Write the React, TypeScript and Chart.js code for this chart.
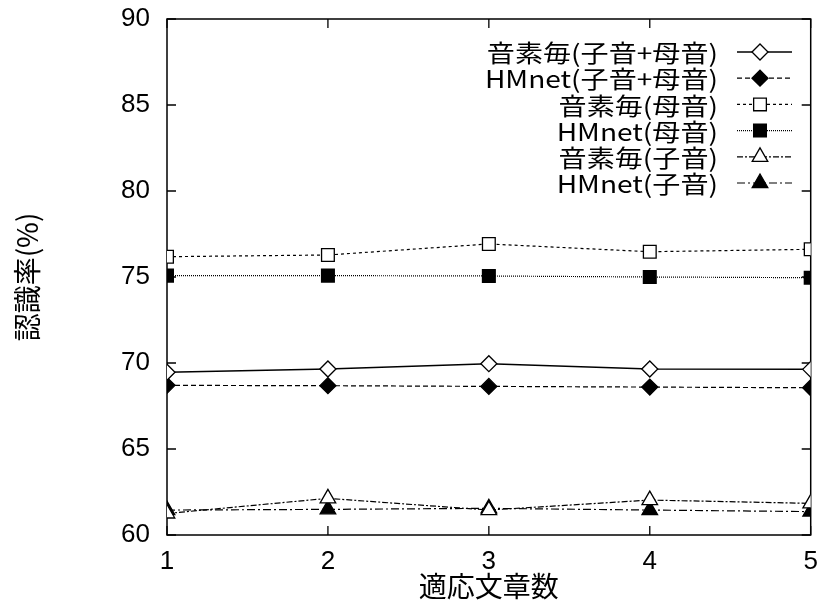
import React, { useEffect, useRef } from 'react';
import { Chart, registerables } from 'chart.js';

Chart.register(...registerables);

// ---- data ----
const xValues = [1, 2, 3, 4, 5];
const yTicks = [60, 65, 70, 75, 80, 85, 90];
const seriesNames = [
  '音素毎(子音+母音)',
  'HMnet(子音+母音)',
  '音素毎(母音)',
  'HMnet(母音)',
  '音素毎(子音)',
  'HMnet(子音)',
];
const phonemeAll = [69.46, 69.65, 69.96, 69.65, 69.63];
const hmnetAll = [68.7, 68.68, 68.64, 68.6, 68.56];
const phonemeVowel = [76.18, 76.28, 76.92, 76.47, 76.61];
const hmnetVowel = [75.08, 75.08, 75.06, 75.0, 74.96];
const phonemeCons = [61.25, 62.13, 61.45, 62.03, 61.84];
const hmnetCons = [61.45, 61.49, 61.55, 61.45, 61.36];
const seriesValues = [phonemeAll, hmnetAll, phonemeVowel, hmnetVowel, phonemeCons, hmnetCons];
const xTitle = '適応文章数';
const yTitle = '認識率(%)';

// ---- styles ----
const seriesStyles = [
  { pointStyle: 'rectRot', filled: false, dash: [] as number[], r: 8, lw: 1.5 },
  { pointStyle: 'rectRot', filled: true, dash: [5, 3], r: 8, lw: 1.2 },
  { pointStyle: 'rect', filled: false, dash: [3, 3], r: 9, lw: 1.2 },
  { pointStyle: 'rect', filled: true, dash: [1, 1], r: 9, lw: 1.2 },
  { pointStyle: 'triangle', filled: false, dash: [6, 2, 2, 2], r: 9, lw: 1.2 },
  { pointStyle: 'triangle', filled: true, dash: [8, 3, 2, 3], r: 9, lw: 1.2 },
];

const CJK = '"Noto Sans CJK JP", sans-serif';
const NUM = '"Liberation Sans", Arial, sans-serif';

function drawMarker(ctx: CanvasRenderingContext2D, style: string, x: number, y: number, r: number, filled: boolean) {
  ctx.beginPath();
  if (style === 'rectRot') {
    ctx.moveTo(x - r, y);
    ctx.lineTo(x, y - r);
    ctx.lineTo(x + r, y);
    ctx.lineTo(x, y + r);
    ctx.closePath();
  } else if (style === 'rect') {
    const s = r * Math.SQRT1_2;
    ctx.rect(x - s, y - s, 2 * s, 2 * s);
  } else {
    for (let k = 0; k < 3; k++) {
      const a = (k * 2 * Math.PI) / 3;
      const px = x + Math.sin(a) * r;
      const py = y - Math.cos(a) * r;
      if (k === 0) ctx.moveTo(px, py);
      else ctx.lineTo(px, py);
    }
    ctx.closePath();
  }
  ctx.fillStyle = filled ? '#000' : '#fff';
  ctx.fill();
  ctx.stroke();
}

const framePlugin = {
  id: 'frame',
  beforeDatasetsDraw(chart: any) {
    const { ctx, chartArea: a, scales } = chart;
    ctx.save();
    ctx.strokeStyle = '#000';
    ctx.setLineDash([]);
    ctx.lineWidth = 1.5;
    ctx.strokeRect(a.left, a.top, a.right - a.left, a.bottom - a.top);
    ctx.lineWidth = 1.3;
    ctx.beginPath();
    for (const v of yTicks) {
      const y = scales.y.getPixelForValue(v);
      ctx.moveTo(a.left, y);
      ctx.lineTo(a.left + 9, y);
      ctx.moveTo(a.right, y);
      ctx.lineTo(a.right - 9, y);
    }
    for (const v of xValues) {
      const x = scales.x.getPixelForValue(v);
      ctx.moveTo(x, a.bottom);
      ctx.lineTo(x, a.bottom - 9);
      ctx.moveTo(x, a.top);
      ctx.lineTo(x, a.top + 9);
    }
    ctx.stroke();
    ctx.restore();
  },
};

const legendPlugin = {
  id: 'customLegend',
  afterDraw(chart: any) {
    const { ctx } = chart;
    const textRight = 718;
    const lineStart = 737;
    const lineEnd = 792;
    const markerX = 760;
    const top = 52;
    const step = 26.2;
    ctx.save();
    ctx.font = `24px ${CJK}`;
    ctx.textAlign = 'right';
    ctx.textBaseline = 'middle';
    chart.data.datasets.forEach((ds: any, i: number) => {
      const st = seriesStyles[i];
      const y = top + step * i;
      ctx.save();
      ctx.translate(textRight, y + 1);
      ctx.scale(1.17, 1);
      ctx.fillStyle = '#000';
      ctx.fillText(ds.label, 0, 0);
      ctx.restore();
      ctx.strokeStyle = '#000';
      ctx.lineWidth = st.lw;
      ctx.setLineDash(st.dash);
      ctx.beginPath();
      ctx.moveTo(lineStart, y);
      ctx.lineTo(lineEnd, y);
      ctx.stroke();
      ctx.setLineDash([]);
      ctx.lineWidth = 1.3;
      drawMarker(ctx, st.pointStyle, markerX, y, st.r, st.filled);
    });
    ctx.restore();
  },
};

export default function App() {
  const canvasRef = useRef<HTMLCanvasElement | null>(null);

  useEffect(() => {
    if (!canvasRef.current) return;
    const datasets = seriesNames.map((name, i) => {
      const st = seriesStyles[i];
      return {
        label: name,
        data: xValues.map((x, j) => ({ x, y: seriesValues[i][j] })),
        borderColor: '#000',
        borderWidth: st.lw,
        borderDash: st.dash,
        pointStyle: st.pointStyle,
        pointRadius: st.r,
        pointBorderWidth: 1.3,
        pointBorderColor: '#000',
        pointBackgroundColor: st.filled ? '#000' : '#fff',
        fill: false,
        tension: 0,
      };
    });
    const chart = new Chart(canvasRef.current, {
      type: 'line',
      data: { datasets },
      options: {
        responsive: false,
        animation: false,
        layout: { padding: { top: 19, right: 6, left: 0, bottom: 0 } },
        plugins: {
          legend: { display: false },
          tooltip: { enabled: false },
        },
        scales: {
          x: {
            type: 'linear',
            min: 1,
            max: 5,
            grid: { display: false, drawTicks: false },
            border: { display: false },
            ticks: {
              stepSize: 1,
              color: '#000',
              font: { family: NUM, size: 26 },
              padding: 11,
              maxRotation: 0,
            },
            title: {
              display: true,
              text: xTitle,
              color: '#000',
              font: { family: CJK, size: 28 },
              padding: { top: 0, bottom: 5 },
            },
            afterFit: (s: any) => {
              s.height = 73;
              s.paddingLeft = 0;
              s.paddingRight = 0;
            },
          },
          y: {
            type: 'linear',
            min: 60,
            max: 90,
            grid: { display: false, drawTicks: false },
            border: { display: false },
            ticks: {
              stepSize: 5,
              color: '#000',
              font: { family: NUM, size: 26 },
              padding: 17,
            },
            title: {
              display: true,
              text: yTitle,
              color: '#000',
              font: { family: CJK, size: 28 },
              padding: { top: 11, bottom: 0 },
            },
            afterFit: (s: any) => {
              s.width = 167;
              s.paddingTop = 0;
              s.paddingBottom = 0;
            },
          },
        },
      } as any,
      plugins: [framePlugin, legendPlugin],
    });
    return () => chart.destroy();
  }, []);

  return (
    <div style={{ position: 'absolute', left: 0, top: 0, width: 821, height: 608, background: '#fff' }}>
      <canvas ref={canvasRef} width={821} height={608} style={{ display: 'block' }} />
    </div>
  );
}
